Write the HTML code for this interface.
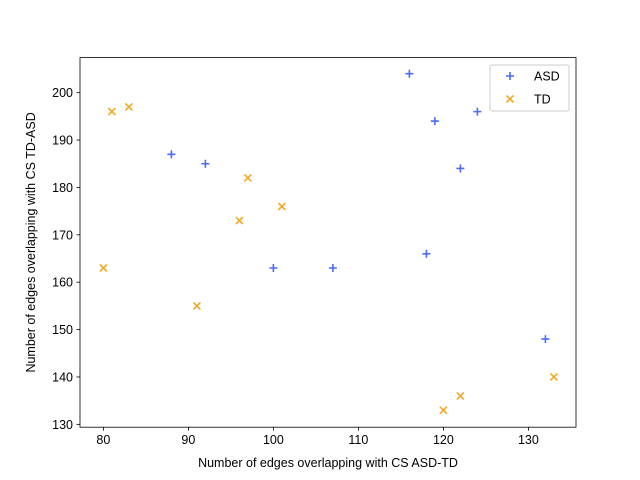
<!DOCTYPE html>
<html>
<head>
<meta charset="utf-8">
<style>
  html, body { margin: 0; padding: 0; background: #fff; }
  svg { display: block; font-family: "Liberation Sans", "DejaVu Sans", sans-serif; }
</style>
</head>
<body>
<svg id="chart" width="640" height="480" viewBox="0 0 640 480" xmlns="http://www.w3.org/2000/svg">
  <rect x="0" y="0" width="640" height="480" fill="#fff"></rect>
  <g id="plot"></g>
  <rect x="80" y="57.6" width="496" height="369.6" fill="none" stroke="#000" stroke-width="0.8"></rect>
  <g id="xticks"></g>
  <g id="yticks"></g>
  <text x="328" y="467" text-anchor="middle" font-size="12.5">Number of edges overlapping with CS ASD-TD</text>
  <text transform="translate(35,242.4) rotate(-90)" text-anchor="middle" font-size="12.5">Number of edges overlapping with CS TD-ASD</text>
  <g>
    <rect x="490" y="65" width="79" height="46" fill="#fff" stroke="#ccc" rx="2"></rect>
    <g>
      <path d="M506 76 h8 M510 72 v8" stroke="#4a6cf7" stroke-width="1.6"></path>
      <text x="534" y="80.5" font-size="12.5">ASD</text>
    </g>
    <g>
      <path d="M506.5 95.5 l7 7 M513.5 95.5 l-7 7" stroke="#f5a623" stroke-width="1.6"></path>
      <text x="534" y="103.5" font-size="12.5">TD</text>
    </g>
  </g>
</svg>
<script>
const asdX = [88, 92, 100, 107, 116, 119, 122, 118, 124, 132];
const asdY = [187, 185, 163, 163, 204, 194, 184, 166, 196, 148];
const tdX = [80, 81, 83, 91, 96, 97, 101, 120, 122, 133];
const tdY = [163, 196, 197, 155, 173, 182, 176, 133, 136, 140];
const xTicks = [80, 90, 100, 110, 120, 130];
const yTicks = [130, 140, 150, 160, 170, 180, 190, 200];

const NS = 'http://www.w3.org/2000/svg';
const L = 80, R = 576, T = 57.6, B = 427.2;
const xMin = 77.25, xMax = 135.6, yMin = 129.4, yMax = 207.4;
function sx(v) { return L + (v - xMin) / (xMax - xMin) * (R - L); }
function sy(v) { return B - (v - yMin) / (yMax - yMin) * (B - T); }
function mk(tag, attrs, parent) {
  const e = document.createElementNS(NS, tag);
  for (const k in attrs) e.setAttribute(k, attrs[k]);
  parent.appendChild(e);
  return e;
}
const plot = document.getElementById('plot');
const xg = document.getElementById('xticks');
const yg = document.getElementById('yticks');

xTicks.forEach(t => {
  const x = sx(t);
  const l = mk('line', {x1: x, x2: x, y1: B, y2: B + 3.5, stroke: '#000', 'stroke-width': 0.8}, xg);
  
  
  const tx = mk('text', {x: x, y: B + 17, 'text-anchor': 'middle', 'font-size': 12.5}, xg);
  tx.textContent = t;
  
  
});
yTicks.forEach(t => {
  const y = sy(t);
  const l = mk('line', {x1: L - 3.5, x2: L, y1: y, y2: y, stroke: '#000', 'stroke-width': 0.8}, yg);
  
  
  const tx = mk('text', {x: L - 7, y: y + 4.5, 'text-anchor': 'end', 'font-size': 12.5}, yg);
  tx.textContent = t;
  
  
});
asdX.forEach((v, i) => {
  const x = sx(v), y = sy(asdY[i]);
  const p = mk('path', {d: `M${x-4} ${y} h8 M${x} ${y-4} v8`, stroke: '#4a6cf7', 'stroke-width': 1.6}, plot);
  
  
});
tdX.forEach((v, i) => {
  const x = sx(v), y = sy(tdY[i]);
  const p = mk('path', {d: `M${x-3.5} ${y-3.5} l7 7 M${x+3.5} ${y-3.5} l-7 7`, stroke: '#f5a623', 'stroke-width': 1.6}, plot);
  
  
});
</script>
</body>
</html>
